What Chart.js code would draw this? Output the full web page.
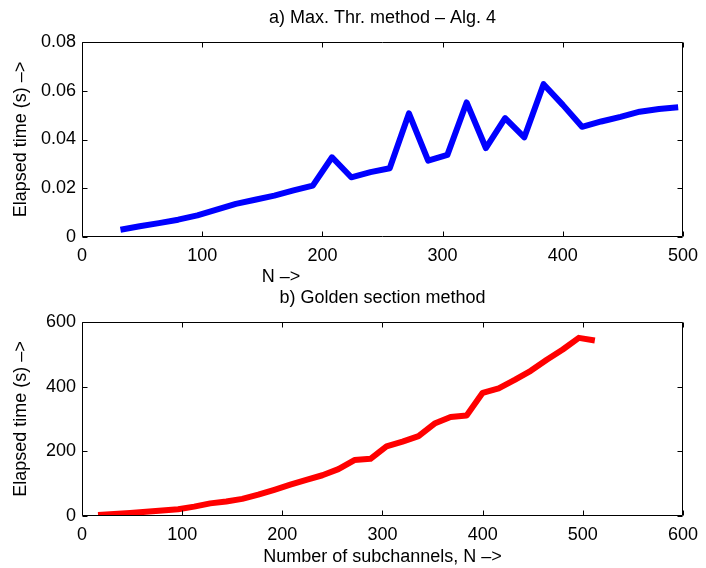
<!DOCTYPE html>
<html>
<head>
<meta charset="utf-8">
<script src="https://cdn.jsdelivr.net/npm/chart.js@4.4.1/dist/chart.umd.min.js"></script>
<style>
  html, body { margin: 0; padding: 0; background: #fff; }
  #wrap { position: relative; width: 706px; height: 568px; }
  .cv { position: absolute; left: 0; }
  #nlabel { position: absolute; left: 281px; top: 276px; transform: translate(-50%, -50%);
    font: 18px "Liberation Sans", Arial, sans-serif; color: #000; white-space: nowrap; line-height: 1; }
</style>
</head>
<body>
<div id="wrap">
  <div class="cv" style="top:0;width:706px;height:285px;"><canvas id="c1"></canvas></div>
  <div id="nlabel">N –&gt;</div>
  <div class="cv" style="top:285px;width:706px;height:283px;"><canvas id="c2"></canvas></div>
</div>
<script>
// ---- data ----
const nTop = [32,48,64,80,96,112,128,144,160,176,192,208,224,240,256,272,288,304,320,336,352,368,384,400,416,432,448,464,480,496];
const timeMaxThr = [0.0030,0.0044,0.0057,0.0071,0.0089,0.0112,0.0136,0.0153,0.0170,0.0191,0.0211,0.0327,0.0245,0.0266,0.0282,0.0507,0.0313,0.0337,0.0552,0.0365,0.0488,0.0409,0.0627,0.0542,0.0452,0.0474,0.0493,0.0514,0.0525,0.0532];
const nBottom = [16,32,48,64,80,96,112,128,144,160,176,192,208,224,240,256,272,288,304,320,336,352,368,384,400,416,432,448,464,480,496,512];
const timeGolden = [3,6,9,13,17,21,29,39,45,53,66,81,97,112,126,145,173,177,215,230,247,286,306,311,381,395,421,449,483,515,551,543];
const titleTop = "a) Max. Thr. method – Alg. 4";
const titleBottom = "b) Golden section method";
const yLabel = "Elapsed time (s) –>";
const xLabelBottom = "Number of subchannels, N –>";

const FONT = '"Liberation Sans", Arial, sans-serif';
const FS = 18;

const boxPlugin = {
  id: 'matlabBox',
  afterDatasetsDraw(chart) {
    const {ctx, chartArea: a, scales: {x, y}} = chart;
    const L = Math.round(a.left) + 0.5, R = Math.round(a.right) - 0.5;
    const T = Math.round(a.top) + 0.5, B = Math.round(a.bottom) - 0.5;
    const tl = 5;
    ctx.save();
    ctx.strokeStyle = '#000';
    ctx.lineWidth = 1;
    ctx.beginPath();
    ctx.rect(L, T, R - L, B - T);
    x.ticks.forEach(t => {
      const px = Math.round(x.getPixelForValue(t.value)) + 0.5;
      ctx.moveTo(px, B); ctx.lineTo(px, B - tl);
      ctx.moveTo(px, T); ctx.lineTo(px, T + tl);
    });
    y.ticks.forEach(t => {
      const py = Math.round(y.getPixelForValue(t.value)) + 0.5;
      ctx.moveTo(L, py); ctx.lineTo(L + tl, py);
      ctx.moveTo(R, py); ctx.lineTo(R - tl, py);
    });
    ctx.stroke();
    // title centred over the plot area
    const opts = chart.options.plugins.matlabBox || {};
    if (opts.text) {
      ctx.fillStyle = '#000';
      ctx.font = FS + 'px ' + FONT;
      ctx.textAlign = 'center';
      ctx.textBaseline = 'middle';
      ctx.fillText(opts.text, (a.left + a.right) / 2, opts.y);
    }
    ctx.restore();
  }
};

function makeChart(id, xs, ys, color, cfg) {
  return new Chart(document.getElementById(id), {
    type: 'line',
    data: {
      datasets: [{
        data: xs.map((v, i) => ({x: v, y: ys[i]})),
        borderColor: color,
        borderWidth: 6,
        pointRadius: 0,
        tension: 0,
        fill: false,
        borderJoinStyle: 'round',
        borderCapStyle: 'butt'
      }]
    },
    options: {
      responsive: true,
      maintainAspectRatio: false,
      animation: false,
      devicePixelRatio: 1,
      layout: { padding: { left: 0, right: 20, top: cfg.padTop, bottom: 0 } },
      plugins: {
        legend: { display: false },
        tooltip: { enabled: false },
        title: { display: false },
        matlabBox: { text: cfg.title, y: cfg.titleY }
      },
      scales: {
        x: {
          type: 'linear',
          min: cfg.xMin, max: cfg.xMax,
          grid: { display: false, drawTicks: false },
          border: { display: false },
          ticks: { stepSize: cfg.xStep, color: '#000', padding: 8, maxRotation: 0,
            font: { family: FONT, size: FS } },
          title: cfg.xTitle ? { display: true, text: cfg.xTitle, color: '#000',
            font: { family: FONT, size: FS, lineHeight: 1.2 }, padding: { top: 0, bottom: cfg.xTitlePadB } } : { display: false },
          afterFit(s) { s.height = cfg.xHeight; }
        },
        y: {
          type: 'linear',
          min: cfg.yMin, max: cfg.yMax,
          grid: { display: false, drawTicks: false },
          border: { display: false },
          ticks: { stepSize: cfg.yStep, color: '#000', padding: 6,
            font: { family: FONT, size: FS },
            callback: v => String(Number(v.toFixed(4))) },
          title: { display: true, text: yLabel, color: '#000',
            font: { family: FONT, size: FS, lineHeight: 1.2 }, padding: { top: 10, bottom: 0 } },
          afterFit(s) { s.width = 82; }
        }
      }
    },
    plugins: [boxPlugin]
  });
}

makeChart('c1', nTop, timeMaxThr, '#0000ff', {
  title: titleTop, titleY: 18, padTop: 42,
  xMin: 0, xMax: 500, xStep: 100, yMin: 0, yMax: 0.08, yStep: 0.02,
  xHeight: 48, xTitle: null
});

makeChart('c2', nBottom, timeGolden, '#ff0000', {
  title: titleBottom, titleY: 13, padTop: 37,
  xMin: 0, xMax: 600, xStep: 100, yMin: 0, yMax: 600, yStep: 200,
  xHeight: 52, xTitle: xLabelBottom, xTitlePadB: 0.5
});
</script>
</body>
</html>
